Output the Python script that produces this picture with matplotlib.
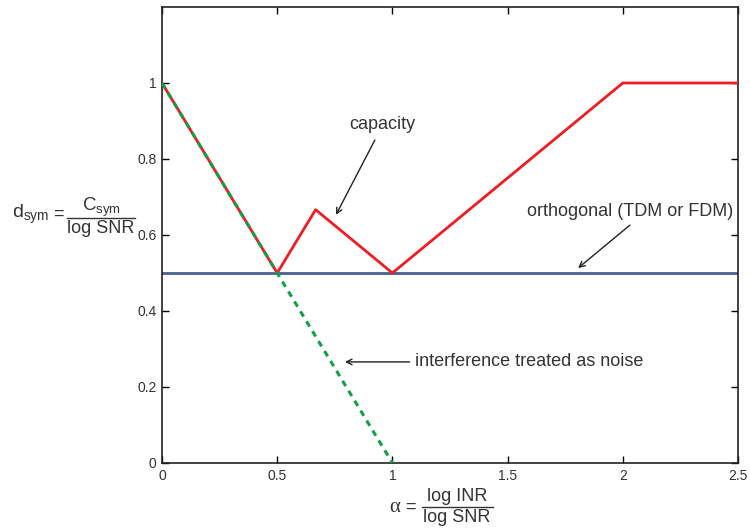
import matplotlib.pyplot as plt
from matplotlib.lines import Line2D

# data
alpha_cap = [0, 0.5, 2/3, 1, 2, 2.5]
d_cap = [1, 0.5, 2/3, 0.5, 1, 1]
alpha_orth = [0, 2.5]
d_orth = [0.5, 0.5]
alpha_tin = [0, 1]
d_tin = [1, 0]
xticks = [0, 0.5, 1, 1.5, 2, 2.5]
yticks = [0, 0.2, 0.4, 0.6, 0.8, 1]

plt.rcParams['font.family'] = ['Liberation Sans', 'DejaVu Sans']
plt.rcParams['mathtext.fontset'] = 'custom'
plt.rcParams['mathtext.rm'] = 'Liberation Sans'
plt.rcParams['mathtext.it'] = 'Liberation Sans:italic'

W, H = 750, 529
fig = plt.figure(figsize=(7.5, 5.29), dpi=100)
ax = fig.add_axes([162 / W, 1 - 463 / H, 576 / W, 456 / H])

ax.plot(alpha_orth, d_orth, color='#4a6090', lw=2, zorder=2)
ax.plot(alpha_cap, d_cap, color='#ee1c25', lw=2, zorder=3)
ax.plot(alpha_tin, d_tin, color='#10a048', lw=2.2, ls=(0, (2, 1.8)), zorder=4)

ax.set_xlim(0, 2.5)
ax.set_ylim(0, 1.2)
ax.set_xticks(xticks)
ax.set_xticklabels(['0', '0.5', '1', '1.5', '2', '2.5'])
ax.set_yticks(yticks)
ax.set_yticklabels(['0', '0.2', '0.4', '0.6', '0.8', '1'])
ax.tick_params(direction='in', top=True, right=True, length=5, width=1,
               labelsize=10, labelcolor='#333333', pad=4)
for s in ax.spines.values():
    s.set_linewidth(1.2)
    s.set_color('#222222')

tc = '#333333'
arr = dict(arrowstyle='->', color='#222222', lw=1, shrinkA=0, shrinkB=0)

ax.text(0.955, 0.892, 'capacity', ha='center', va='center', fontsize=13, color=tc)
ax.annotate('', xy=(0.755, 0.653), xytext=(0.924, 0.85), arrowprops=arr)

ax.text(2.031, 0.661, 'orthogonal (TDM or FDM)', ha='center', va='center',
        fontsize=13, color=tc)
ax.annotate('', xy=(1.806, 0.513), xytext=(2.031, 0.626), arrowprops=arr)

ax.text(1.098, 0.266, 'interference treated as noise', ha='left', va='center',
        fontsize=13, color=tc)
ax.annotate('', xy=(0.794, 0.266), xytext=(1.075, 0.266), arrowprops=arr)


def fx(px):
    return px / W


def fy(py):
    return 1 - py / H


# y label: d_sym = C_sym / log SNR
fig.text(fx(12), fy(218), r'$\mathrm{d_{sym}}$', ha='left', va='baseline',
         fontsize=14, color=tc)
fig.text(fx(58), fy(214), '=', ha='center', va='center', fontsize=13, color=tc)
fig.add_artist(Line2D([fx(67), fx(135)], [fy(218), fy(218)], color=tc, lw=1,
                      transform=fig.transFigure))
fig.text(fx(101), fy(211), r'$\mathrm{C_{sym}}$', ha='center', va='baseline',
         fontsize=13.5, color=tc)
fig.text(fx(101), fy(220), 'log SNR', ha='center', va='top', fontsize=13, color=tc)

# x label: alpha = log INR / log SNR
fig.text(fx(395), fy(507), 'α', ha='center', va='center', fontsize=15,
         color=tc, family=['Liberation Serif', 'DejaVu Serif'])
fig.text(fx(410), fy(507), '=', ha='center', va='center', fontsize=13, color=tc)
fig.add_artist(Line2D([fx(422), fx(493)], [fy(507), fy(507)], color=tc, lw=1,
                      transform=fig.transFigure))
fig.text(fx(457), fy(501), 'log INR', ha='center', va='baseline', fontsize=13, color=tc)
fig.text(fx(457), fy(509), 'log SNR', ha='center', va='top', fontsize=13, color=tc)

fig.savefig('out.png', dpi=100)
